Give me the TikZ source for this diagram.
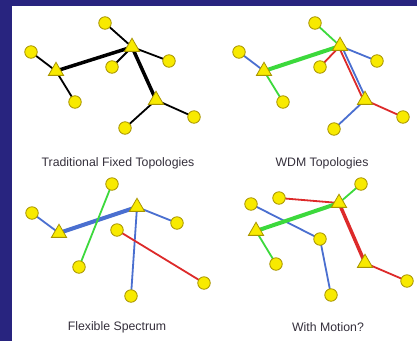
\documentclass[tikz,border=0pt]{standalone}
\usepackage{fontspec}
\setmainfont{Liberation Sans}
\usetikzlibrary{shapes.geometric}
\definecolor{slide}{HTML}{28247F}
\definecolor{nodey}{HTML}{F8EA00}
\definecolor{nodeo}{HTML}{A89400}
\definecolor{lgreen}{HTML}{3CD93C}
\definecolor{lblue}{HTML}{4A6FD0}
\definecolor{lred}{HTML}{DD2A2A}
\definecolor{captxt}{HTML}{35303C}
\pgfdeclarelayer{bg}
\pgfsetlayers{bg,main}
\tikzset{
  site/.style={circle,draw=nodeo,fill=nodey,line width=0.8pt,minimum size=12.5pt,inner sep=0pt},
  hub/.style={regular polygon,regular polygon sides=3,draw=nodeo,fill=nodey,line width=0.8pt,minimum size=17.5pt,inner sep=0pt},
  legend/.style={text=captxt,font=\fontsize{12.3}{14}\selectfont},
  link/.style={line width=1.8pt},
  trunk/.style={line width=3.5pt}
}

\begin{document}
\begin{tikzpicture}[x=1pt,y=-1pt]
\useasboundingbox (0,0) rectangle (417,341);

\node[site] (fa) at (105,23) {};
\node[hub] (fh1) at (132,47) {};
\node[site] (fb) at (31,52) {};
\node[hub] (fh2) at (56,71) {};
\node[site] (fc) at (112,67) {};
\node[site] (fd) at (169,61) {};
\node[site] (fe) at (75,102) {};
\node[hub] (fh3) at (156,100) {};
\node[site] (ff) at (194,117) {};
\node[site] (fg) at (125,128) {};
\node[legend] (fcap) at (118,163) {Traditional Fixed Topologies};

\node[site] (wa) at (315,23) {};
\node[hub] (wh1) at (340,46) {};
\node[site] (wb) at (239,52) {};
\node[hub] (wh2) at (264,71) {};
\node[site] (wc) at (320,67) {};
\node[site] (wd) at (377,61) {};
\node[site] (we) at (283,102) {};
\node[hub] (wh3) at (365,100) {};
\node[site] (wf) at (403,117) {};
\node[site] (wg) at (334,129) {};
\node[legend] (wcap) at (322,163) {WDM Topologies};

\node[site] (sh) at (112,184) {};
\node[site] (sb) at (32,213) {};
\node[hub] (sh2) at (59,233) {};
\node[hub] (sh1) at (137,207) {};
\node[site] (sd) at (177,223) {};
\node[site] (sc) at (117,230) {};
\node[site] (se) at (79,267) {};
\node[site] (sf) at (204,283) {};
\node[site] (sg) at (131,296) {};
\node[legend] (scap) at (117,327) {Flexible Spectrum};

\node[site] (mh) at (361,184) {};
\node[hub] (mh1) at (339,203) {};
\node[site] (ma) at (279,198) {};
\node[site] (mb) at (251,204) {};
\node[hub] (mh2) at (256,231) {};
\node[site] (mc) at (320,239) {};
\node[site] (me) at (276,264) {};
\node[hub] (mh3) at (365,263) {};
\node[site] (mf) at (407,281) {};
\node[site] (mg) at (331,295) {};
\node[legend] (mcap) at (328,327) {With Motion?};

\begin{pgfonlayer}{bg}
\fill[slide] (0,0) rectangle (417,341);
\fill[white] (12,6) rectangle (417,341);

\draw[link] (fa.center) -- (fh1.center) -- (fc.center);
\draw[link] (fh1.center) -- (fd.center);
\draw[link] (fb.center) -- (fh2.center) -- (fe.center);
\draw[link] (ff.center) -- (fh3.center) -- (fg.center);
\draw[trunk] (fh2.center) -- (fh1.center) -- (fh3.center);

\draw[link,lgreen] (wa.center) -- (wh1.center);
\draw[link,lred] (wh1.center) -- (wc.center);
\draw[link,lblue] (wh1.center) -- (wd.center);
\draw[link,lblue] (wb.center) -- (wh2.center);
\draw[link,lgreen] (wh2.center) -- (we.center);
\draw[link,lred] (wh3.center) -- (wf.center);
\draw[link,lblue] (wh3.center) -- (wg.center);
\draw[line width=4pt,lgreen] (wh2.center) -- (wh1.center);
\draw[link,lred] ([xshift=-1.6pt]wh1.center) -- ([xshift=-1.6pt]wh3.center);
\draw[link,lblue] ([xshift=1.6pt]wh1.center) -- ([xshift=1.6pt]wh3.center);

\draw[link,lblue] (sb.center) -- (sh2.center);
\draw[line width=4pt,lblue] (sh2.center) -- (sh1.center);
\draw[link,lblue] (sh1.center) -- (sd.center);
\draw[link,lblue] (sh1.center) -- (sg.center);
\draw[link,lgreen] (sh.center) -- (se.center);
\draw[link,lred] (sc.center) -- (sf.center);

\draw[link,lgreen] (mh.center) -- (mh1.center);
\draw[link,lred] (ma.center) -- (mh1.center);
\draw[link,lblue] (mb.center) -- (mc.center) -- (mg.center);
\draw[line width=4pt,lgreen] (mh2.center) -- (mh1.center);
\draw[link,lgreen] (mh2.center) -- (me.center);
\draw[trunk,lred] (mh1.center) -- (mh3.center);
\draw[link,lred] (mh3.center) -- (mf.center);
\end{pgfonlayer}
\end{tikzpicture}
\end{document}
